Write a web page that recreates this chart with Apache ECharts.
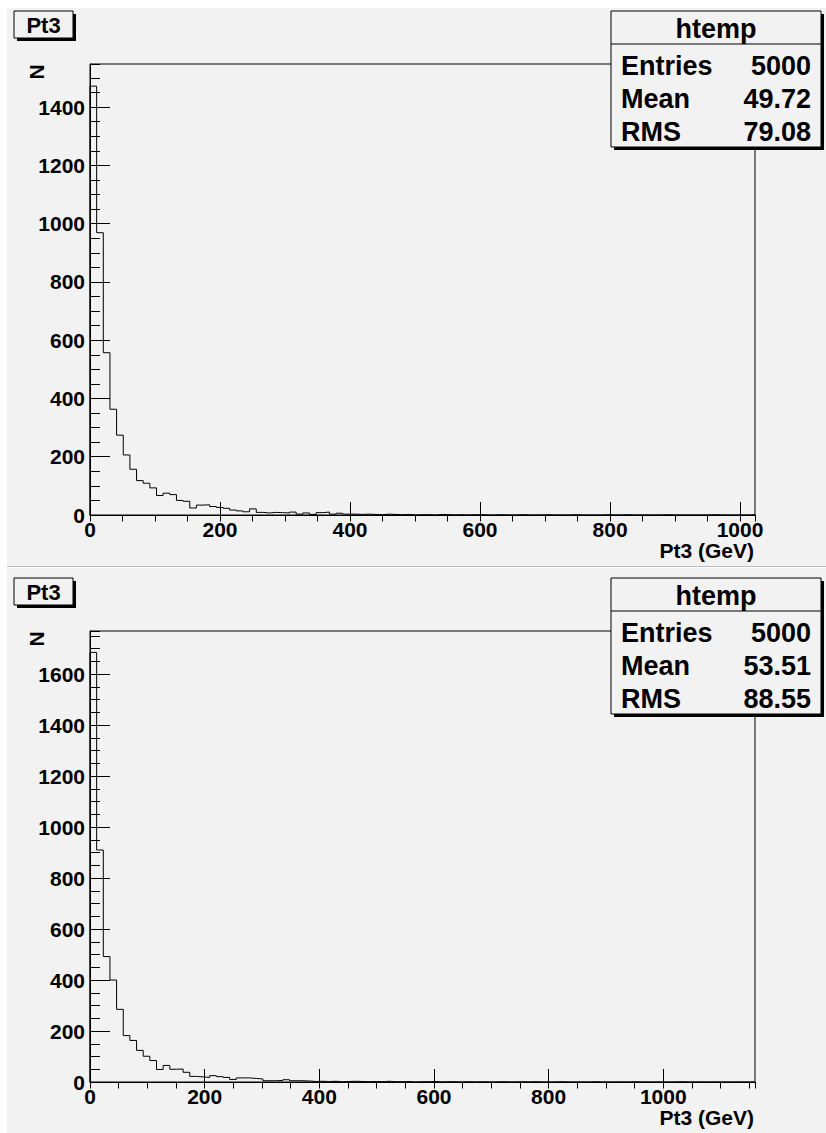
<!DOCTYPE html>
<html><head><meta charset="utf-8">
<script src="https://cdn.jsdelivr.net/npm/echarts@6/dist/echarts.min.js"></script>
<style>
html,body{margin:0;padding:0;background:#fff;}
#wrap{position:relative;width:826px;height:1133px;overflow:hidden;background:#fff;}
.pad{position:absolute;background:#f2f2f2;}
#chart{position:absolute;left:0;top:0;width:826px;height:1133px;}
</style></head><body>
<div id="wrap">
<div class="pad" style="left:7px;top:8px;width:819px;height:558px"></div>
<div style="position:absolute;left:7px;top:566px;width:819px;height:1px;background:#bdbdbd"></div>
<div class="pad" style="left:7px;top:568px;width:819px;height:565px"></div>
<div id="chart"></div>
</div>
<script>
// ---- data ----
const binsTop = [
 1472, 969, 557, 363, 274, 206, 157, 118, 109, 93,
 67, 75, 70, 50, 47, 24, 34, 35, 29, 26,
 23, 17, 14, 11, 21, 9, 7, 9, 8, 7,
 10, 3, 7, 2, 8, 10, 3, 6, 3, 3,
 2, 3, 2, 1, 3, 2, 1, 2, 0, 1,
 1, 0, 2, 1, 0, 1, 0, 1, 1, 0,
 0, 1, 0, 0, 1, 0, 0, 0, 1, 0,
 0, 0, 1, 0, 0, 0, 0, 1, 0, 0,
 1, 0, 0, 0, 0, 0, 1, 0, 0, 0,
 0, 0, 0, 1, 0, 0, 0, 0, 0, 1
];
const binsBottom = [
 1685, 910, 492, 400, 285, 182, 163, 124, 101, 84,
 49, 65, 50, 51, 38, 22, 20, 18, 25, 21,
 18, 10, 16, 16, 14, 12, 5, 5, 6, 9,
 5, 5, 4, 2, 3, 2, 3, 1, 2, 3,
 2, 1, 2, 1, 3, 1, 1, 2, 0, 1,
 1, 2, 0, 1, 1, 0, 1, 0, 1, 0,
 0, 1, 0, 0, 1, 0, 1, 0, 0, 0,
 1, 0, 0, 0, 0, 1, 0, 0, 0, 0,
 0, 1, 0, 0, 0, 0, 0, 0, 1, 0,
 0, 0, 0, 0, 0, 0, 0, 0, 0, 0
];
const xRangeTop = [0, 1023];
const xRangeBottom = [0, 1160];
const yRangeTop = [0, 1548];
const yRangeBottom = [0, 1769];
const histTitle = 'Pt3';
const xTitle = 'Pt3 (GeV)';
const yTitle = 'N';
const statsName = 'htemp';
const statLabels = ['Entries', 'Mean', 'RMS'];
const statsTopValues = ['5000', '49.72', '79.08'];
const statsBottomValues = ['5000', '53.51', '88.55'];

// ---- build ----
const FONT = '"Liberation Sans", Arial, Helvetica, sans-serif';
function outline(bins, xmax) {
  const w = xmax / bins.length;
  const pts = [[0, 0]];
  bins.forEach((v, i) => { pts.push([i * w, v]); pts.push([(i + 1) * w, v]); });
  pts.push([xmax, 0]);
  return pts;
}

const pads = [
  {oy: 0, bins: binsTop, xr: xRangeTop, yr: yRangeTop, stats: statsTopValues},
  {oy: 567, bins: binsBottom, xr: xRangeBottom, yr: yRangeBottom, stats: statsBottomValues}
];

const grid = [], xAxis = [], yAxis = [], series = [], graphic = [];
const lbl = {color: '#000', fontSize: 21, fontWeight: 'bold', fontFamily: FONT,
  formatter: v => String(v)};

pads.forEach((p, gi) => {
  grid.push({left: 90, top: 64 + p.oy, width: 665, height: 451, show: true,
    borderColor: '#000', borderWidth: 1, backgroundColor: 'transparent'});
  // major x
  xAxis.push({type: 'value', gridIndex: gi, min: p.xr[0], max: p.xr[1], interval: 200,
    axisLine: {show: true, lineStyle: {color: '#000', width: 1}},
    axisTick: {show: true, inside: true, length: 13, lineStyle: {color: '#000', width: 1}},
    axisLabel: Object.assign({margin: 4, showMaxLabel: false, showMinLabel: true}, lbl),
    splitLine: {show: false}});
  // minor x
  xAxis.push({type: 'value', gridIndex: gi, min: p.xr[0], max: p.xr[1], interval: 50,
    axisLine: {show: false},
    axisTick: {show: true, inside: true, length: 6.5, lineStyle: {color: '#000', width: 1}},
    axisLabel: {show: false}, splitLine: {show: false}});
  // major y
  yAxis.push({type: 'value', gridIndex: gi, min: p.yr[0], max: p.yr[1], interval: 200,
    axisLine: {show: true, lineStyle: {color: '#000', width: 1}},
    axisTick: {show: true, inside: true, length: 20, lineStyle: {color: '#000', width: 1}},
    axisLabel: Object.assign({margin: 5, showMaxLabel: false}, lbl),
    splitLine: {show: false}});
  // minor y
  yAxis.push({type: 'value', gridIndex: gi, position: 'left', offset: 0, min: p.yr[0], max: p.yr[1], interval: 50,
    axisLine: {show: false},
    axisTick: {show: true, inside: true, length: 10, lineStyle: {color: '#000', width: 1}},
    axisLabel: {show: false}, splitLine: {show: false}});

  series.push({type: 'line', xAxisIndex: gi * 2, yAxisIndex: gi * 2, data: outline(p.bins, p.xr[1]),
    symbol: 'none', showSymbol: false, animation: false, silent: true, z: 5,
    lineStyle: {color: '#000', width: 1}});

  const oy = p.oy;
  // title box
  graphic.push({type: 'rect', z: 100, shape: {x: 17, y: 14 + oy, width: 59, height: 27}, style: {fill: '#000'}});
  graphic.push({type: 'rect', z: 101, shape: {x: 14, y: 11 + oy, width: 59, height: 27},
    style: {fill: '#f2f2f2', stroke: '#000', lineWidth: 1}});
  graphic.push({type: 'text', z: 102, x: 43.5, y: 25 + oy,
    style: {text: histTitle, align: 'center', verticalAlign: 'middle', fill: '#000',
      font: 'bold 22px ' + FONT}});
  // y title
  graphic.push({type: 'text', z: 102, x: 36, y: 72 + oy, rotation: Math.PI / 2,
    style: {text: yTitle, align: 'center', verticalAlign: 'middle', fill: '#000',
      font: 'bold 21px ' + FONT}});
  // x title
  graphic.push({type: 'text', z: 102, x: 754, y: 550 + oy,
    style: {text: xTitle, align: 'right', verticalAlign: 'middle', fill: '#000',
      font: 'bold 21px ' + FONT}});
  // stats box
  const bx = 611, by = 11 + oy, bw = 210, bh = 136;
  graphic.push({type: 'rect', z: 100, shape: {x: bx + 3, y: by + 3, width: bw, height: bh}, style: {fill: '#000'}});
  graphic.push({type: 'rect', z: 101, shape: {x: bx, y: by, width: bw, height: bh},
    style: {fill: '#f2f2f2', stroke: '#000', lineWidth: 1}});
  graphic.push({type: 'line', z: 102, shape: {x1: bx, y1: by + 33, x2: bx + bw, y2: by + 33},
    style: {stroke: '#000', lineWidth: 1}});
  graphic.push({type: 'text', z: 102, x: bx + bw / 2, y: by + 18,
    style: {text: statsName, align: 'center', verticalAlign: 'middle', fill: '#000',
      font: 'bold 27px ' + FONT}});
  statLabels.forEach((name, i) => {
    const ry = by + 55 + i * 33;
    graphic.push({type: 'text', z: 102, x: bx + 10, y: ry,
      style: {text: name, align: 'left', verticalAlign: 'middle', fill: '#000', font: 'bold 27px ' + FONT}});
    graphic.push({type: 'text', z: 102, x: bx + bw - 10, y: ry,
      style: {text: p.stats[i], align: 'right', verticalAlign: 'middle', fill: '#000', font: 'bold 27px ' + FONT}});
  });
});

const chart = echarts.init(document.getElementById('chart'), null, {renderer: 'svg', width: 826, height: 1133});
chart.setOption({
  backgroundColor: 'transparent',
  animation: false,
  grid, xAxis, yAxis, series, graphic
});
</script>
</body></html>
